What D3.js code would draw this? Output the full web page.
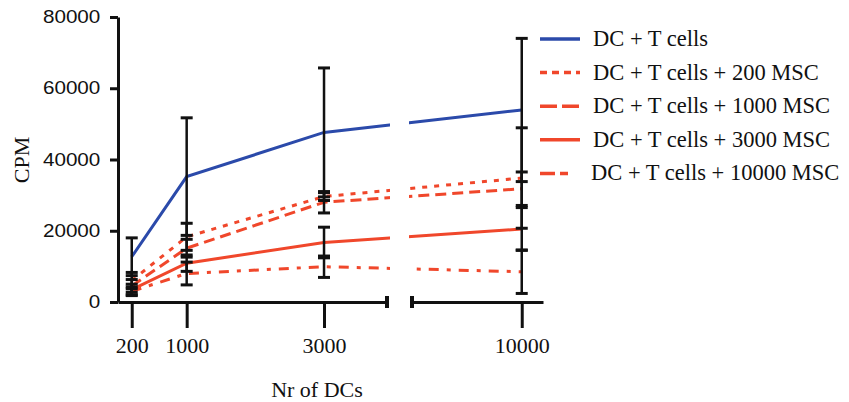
<!DOCTYPE html>
<html>
<head>
<meta charset="utf-8">
<script src="https://cdn.jsdelivr.net/npm/d3@7"></script>
<style>
  body { margin: 0; background: #fff; }
  svg { display: block; }
</style>
</head>
<body>
<div id="chart"></div>
<script>
// ---- DATA ----
const dcCounts = [200, 1000, 3000, 10000];
const seriesNames = [
  "DC + T cells",
  "DC + T cells + 200 MSC",
  "DC + T cells + 1000 MSC",
  "DC + T cells + 3000 MSC",
  "DC + T cells + 10000 MSC"
];
const meanTcells   = [12700, 35200, 47600, 53900];
const mean200MSC   = [6000, 18300, 29600, 34800];
const mean1000MSC  = [4500, 15100, 28000, 31800];
const mean3000MSC  = [3500, 10900, 16700, 20500];
const mean10000MSC = [3000, 8000, 9900, 8500];
const sdTcells   = [5300, 16500, 18100, 20100];
const sd200MSC   = [2300, 3800, 1100, 14100];
const sd1000MSC  = [1800, 2500, 3000, 4700];
const sd3000MSC  = [1500, 2300, 4300, 6000];
const sd10000MSC = [1200, 3200, 3000, 6100];
const yTicks = [0, 20000, 40000, 60000, 80000];
const xTicksLeft = [200, 1000, 3000];
const xTicksRight = [10000];

const means = [meanTcells, mean200MSC, mean1000MSC, mean3000MSC, mean10000MSC];
const sds = [sdTcells, sd200MSC, sd1000MSC, sd3000MSC, sd10000MSC];

const width = 849;
const height = 402;
const blue = "#2b4aaa";
const red = "#f0472b";
const colors = [blue, red, red, red, red];
const dashes = [null, "5,7", "11,6", null, "10,8,4,8"];
const legendDashes = [null, "7,5", "17,5", null, "15,5,8,5"];
const fmt = d3.format("d");

const svg = d3.select("#chart")
  .append("svg")
  .attr("width", width)
  .attr("height", height);

// ---- SCALES ----
const leftBreak = 3917;
const xLeft = d3.scaleLinear().domain([0, leftBreak]).range([118, 387]);
const xRight = d3.scaleLinear().domain([8400, 10310]).range([412, 543]);
const xPos = v => v <= leftBreak ? xLeft(v) : xRight(v);

const y = d3.scaleLinear().domain([0, 80000]).range([302, 17]);

// ---- AXES ----
const yAxis = svg.append("g")
  .attr("transform", "translate(118,0)")
  .call(d3.axisLeft(y).tickValues(yTicks).tickFormat(fmt).tickSize(8).tickSizeOuter(0).tickPadding(10));
yAxis.selectAll("text")
  .attr("x", -15)
  .attr("transform", "scale(1.18,1)")
  .style("font-family", "'Liberation Sans', Arial, sans-serif")
  .style("font-size", "17.5px")
  .attr("fill", "#111");

const xAxisL = svg.append("g")
  .attr("transform", "translate(0,302)")
  .call(d3.axisBottom(xLeft).tickValues(xTicksLeft).tickFormat(fmt).tickSize(26).tickSizeOuter(0).tickPadding(9));
const xAxisR = svg.append("g")
  .attr("transform", "translate(0,302)")
  .call(d3.axisBottom(xRight).tickValues(xTicksRight).tickFormat(fmt).tickSize(26).tickSizeOuter(0).tickPadding(9));

[xAxisL, xAxisR].forEach(g => {
  g.selectAll("text")
    .style("font-family", "'Liberation Serif', 'Times New Roman', serif")
    .style("font-size", "22px")
    .attr("fill", "#111");
});

[yAxis, xAxisL, xAxisR].forEach(g => {
  g.select(".domain").attr("stroke", "#111").attr("stroke-width", 3);
  g.selectAll(".tick line").attr("stroke", "#111").attr("stroke-width", 3);
});

// break caps at segment ends
[387, 412].forEach(bx => {
  svg.append("line")
    .attr("x1", bx).attr("x2", bx)
    .attr("y1", 296).attr("y2", 308)
    .attr("stroke", "#111")
    .attr("stroke-width", 4);
});

// ---- AXIS TITLES ----
svg.append("text")
  .attr("transform", "translate(29,160) rotate(-90)")
  .attr("text-anchor", "middle")
  .style("font-family", "'Liberation Serif', 'Times New Roman', serif")
  .style("font-size", "22px")
  .attr("fill", "#111")
  .text("CPM");

svg.append("text")
  .attr("x", 317)
  .attr("y", 397)
  .attr("text-anchor", "middle")
  .style("font-family", "'Liberation Serif', 'Times New Roman', serif")
  .style("font-size", "22px")
  .attr("fill", "#111")
  .text("Nr of DCs");

// ---- CLIP (gap in the x axis) ----
const clip = svg.append("clipPath").attr("id", "gap");
clip.append("rect").attr("x", 0).attr("y", 0).attr("width", 390).attr("height", height);
clip.append("rect").attr("x", 409).attr("y", 0).attr("width", width - 409).attr("height", height);

// ---- LINES ----
const line = d3.line()
  .x((d, i) => xPos(dcCounts[i]))
  .y(d => y(d));

const lines = svg.append("g").attr("clip-path", "url(#gap)");
means.forEach((m, s) => {
  lines.append("path")
    .datum(m)
    .attr("d", line)
    .attr("fill", "none")
    .attr("stroke", colors[s])
    .attr("stroke-width", 3)
    .attr("stroke-dasharray", dashes[s]);
});

// ---- ERROR BARS ----
const bars = svg.append("g")
  .attr("stroke", "#111")
  .attr("stroke-width", 2.5);
means.forEach((m, s) => {
  m.forEach((v, i) => {
    const cx = xPos(dcCounts[i]);
    const lo = y(v - sds[s][i]);
    const hi = y(v + sds[s][i]);
    bars.append("line").attr("x1", cx).attr("x2", cx).attr("y1", lo).attr("y2", hi);
    [lo, hi].forEach(cy => {
      bars.append("line")
        .attr("x1", cx - 6).attr("x2", cx + 6)
        .attr("y1", cy).attr("y2", cy)
        .attr("stroke-width", 3);
    });
  });
});

// ---- LEGEND ----
const legend = svg.append("g");
seriesNames.forEach((name, s) => {
  const ly = 39 + s * 33.6;
  const len = s === 4 ? 28 : 40;
  legend.append("line")
    .attr("x1", 540).attr("x2", 540 + len)
    .attr("y1", ly).attr("y2", ly)
    .attr("stroke", colors[s])
    .attr("stroke-width", 3.5)
    .attr("stroke-dasharray", legendDashes[s]);
  legend.append("text")
    .attr("x", s === 4 ? 591 : 593)
    .attr("y", ly + 7)
    .style("font-family", "'Liberation Serif', 'Times New Roman', serif")
    .style("font-size", "22.5px")
    .attr("fill", "#111")
    .text(name);
});
</script>
</body>
</html>
